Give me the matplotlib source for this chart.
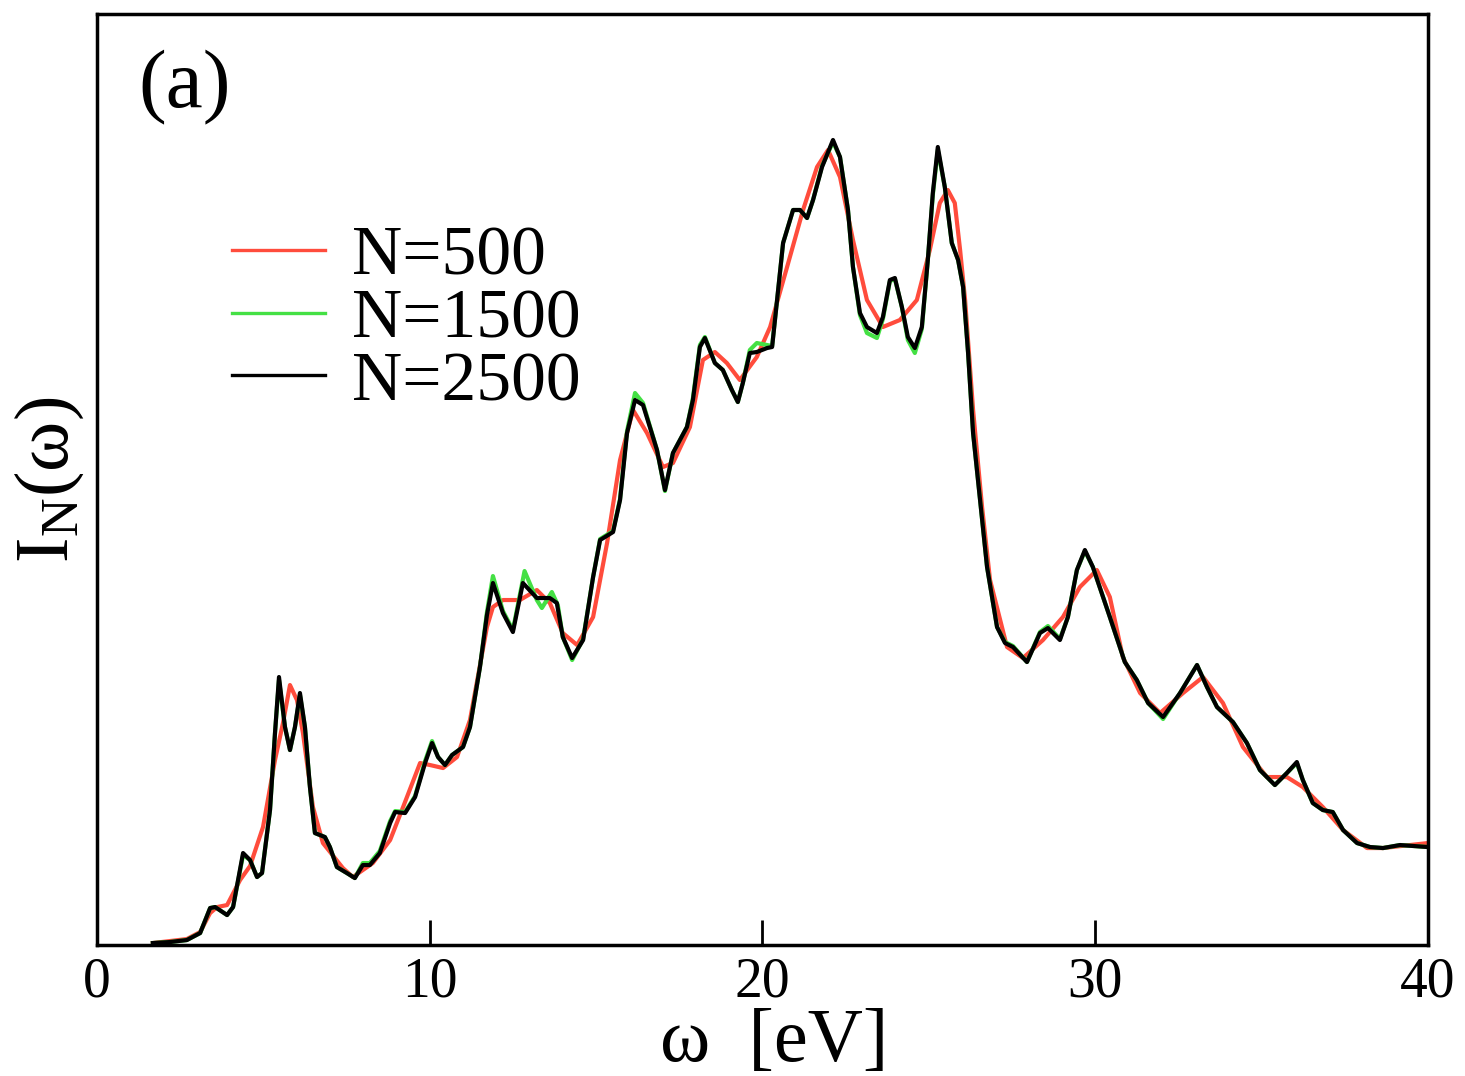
import matplotlib.pyplot as plt

plt.rcParams['font.family'] = ['Liberation Serif', 'DejaVu Serif']
plt.rcParams['mathtext.default'] = 'regular'

labels = ['N=500', 'N=1500', 'N=2500']
colors = ['#ff4c3c', '#44e044', 'black']

# N=500 (red), omega in eV, intensity in arbitrary units
w_500 = [1.68, 2.70, 3.10, 3.40, 3.61, 3.91, 4.30, 4.60, 4.99, 5.35, 5.59, 5.80, 6.01,
         6.19, 6.49, 6.79, 7.39, 7.69, 8.29, 8.81, 9.20, 9.71, 10.01, 10.40, 10.82,
         11.21, 11.72, 11.90, 12.20, 12.71, 13.22, 13.61, 14.00, 14.43, 14.91, 15.33,
         15.72, 16.11, 16.53, 17.01, 17.31, 17.82, 18.21, 18.57, 18.93, 19.32, 19.83,
         20.23, 20.74, 21.22, 21.64, 21.97, 22.33, 22.72, 23.14, 23.62, 24.13, 24.64,
         25.03, 25.33, 25.57, 25.78, 25.94, 26.09, 26.33, 26.60, 26.84, 27.35, 27.83,
         28.43, 29.03, 29.54, 30.05, 30.44, 30.83, 31.35, 31.95, 32.64, 33.24, 33.84,
         34.44, 35.16, 35.76, 36.24, 36.84, 37.45, 38.17, 38.65, 40.0]
i_500 = [0.2, 0.6, 1.3, 3.2, 3.8, 4.0, 6.5, 7.9, 11.8, 18.5, 22.2, 26.0, 24.5,
         21.2, 13.8, 10.2, 7.7, 6.8, 8.2, 10.5, 13.8, 18.2, 18.0, 17.7, 18.8,
         22.5, 31.8, 33.8, 34.5, 34.5, 35.5, 34.2, 31.2, 30.0, 32.8, 40.2,
         48.5, 53.5, 51.2, 47.8, 48.2, 51.8, 58.5, 59.3, 58.2, 56.5, 58.8,
         61.8, 67.8, 73.5, 77.8, 79.5, 76.8, 70.5, 64.5, 61.8, 62.5, 64.5,
         69.5, 74.2, 75.5, 74.2, 69.5, 64.5, 53.5, 43.8, 36.5, 29.8, 28.7,
         30.5, 32.8, 35.8, 37.5, 34.8, 28.8, 25.2, 23.2, 25.2, 26.8, 24.2,
         19.8, 16.8, 16.8, 15.8, 13.8, 11.5, 9.7, 9.7, 10.2]

# N=1500 (green)
w_1500 = [1.68, 2.19, 2.70, 3.10, 3.40, 3.55, 3.91, 4.09, 4.39, 4.60, 4.81, 4.96, 5.20,
          5.35, 5.47, 5.65, 5.80, 5.95, 6.10, 6.25, 6.40, 6.55, 6.85, 7.00, 7.21, 7.51,
          7.75, 7.99, 8.20, 8.50, 8.81, 8.96, 9.26, 9.56, 9.86, 10.07, 10.25, 10.46,
          10.67, 11.00, 11.21, 11.51, 11.72, 11.90, 12.20, 12.50, 12.85, 13.22, 13.37,
          13.67, 13.85, 14.00, 14.28, 14.61, 14.91, 15.12, 15.51, 15.72, 15.93, 16.17,
          16.41, 16.83, 17.07, 17.31, 17.73, 17.91, 18.12, 18.27, 18.57, 18.81, 19.08,
          19.26, 19.41, 19.62, 19.83, 20.14, 20.29, 20.44, 20.62, 20.92, 21.13, 21.34,
          21.52, 21.79, 22.12, 22.33, 22.57, 22.72, 22.93, 23.14, 23.44, 23.62, 23.83,
          23.98, 24.19, 24.37, 24.58, 24.79, 24.97, 25.12, 25.27, 25.48, 25.69, 25.88,
          26.03, 26.18, 26.33, 26.54, 26.75, 27.05, 27.29, 27.53, 27.95, 28.34, 28.58,
          28.94, 29.18, 29.45, 29.69, 29.93, 30.44, 30.89, 31.25, 31.59, 32.04, 32.55,
          33.06, 33.36, 33.66, 34.14, 34.56, 34.95, 35.40, 35.76, 36.06, 36.24, 36.54,
          36.84, 37.14, 37.45, 37.87, 38.26, 38.65, 39.16, 40.0]
i_1500 = [0.2, 0.3, 0.5, 1.2, 3.7, 3.8, 3.0, 3.8, 9.0, 8.5, 6.8, 7.2, 13.5,
          21.2, 26.5, 21.8, 19.5, 21.8, 25.0, 21.8, 15.8, 11.2, 10.8, 9.8, 7.8, 7.2,
          6.7, 8.2, 8.2, 9.4, 12.4, 13.4, 13.3, 14.9, 18.4, 20.4, 18.8, 18.0,
          19.0, 19.8, 21.8, 27.8, 33.3, 36.9, 33.4, 31.5, 37.4, 34.5, 33.7,
          35.3, 34.0, 30.8, 28.5, 30.6, 36.8, 40.6, 41.4, 44.6, 51.4, 55.2,
          54.2, 49.5, 45.4, 49.2, 51.8, 54.7, 60.0, 60.8, 58.2, 57.5, 55.5,
          54.3, 56.2, 59.5, 60.2, 60.0, 59.9, 64.5, 70.2, 73.5, 73.5, 72.7,
          74.5, 77.9, 80.3, 78.8, 73.5, 67.8, 63.0, 61.2, 60.7, 62.6, 66.4,
          66.6, 63.8, 60.5, 59.2, 61.6, 68.5, 75.0, 79.5, 75.8, 70.2, 68.5,
          65.8, 59.2, 51.2, 44.5, 37.8, 31.8, 30.3, 29.9, 28.3, 31.3, 31.9,
          30.6, 32.8, 37.5, 39.4, 37.8, 32.8, 28.3, 26.5, 24.2, 22.6, 25.2,
          28.0, 25.8, 23.8, 22.3, 20.2, 17.5, 16.0, 17.2, 18.2, 16.5, 14.2,
          13.5, 13.3, 11.5, 10.2, 9.8, 9.7, 10.0, 9.8]

# N=2500 (black)
w_2500 = [1.68, 2.19, 2.70, 3.10, 3.40, 3.55, 3.91, 4.09, 4.39, 4.60, 4.81, 4.96, 5.20,
          5.35, 5.47, 5.65, 5.80, 5.95, 6.10, 6.25, 6.40, 6.55, 6.85, 7.00, 7.21, 7.51,
          7.75, 7.99, 8.20, 8.50, 8.81, 8.96, 9.26, 9.56, 9.86, 10.07, 10.25, 10.46,
          10.67, 11.00, 11.21, 11.51, 11.72, 11.90, 12.20, 12.50, 12.80, 13.22, 13.61,
          13.82, 14.00, 14.28, 14.61, 14.91, 15.12, 15.51, 15.72, 15.93, 16.17, 16.41,
          16.83, 17.07, 17.31, 17.73, 17.91, 18.12, 18.27, 18.57, 18.81, 19.08, 19.26,
          19.41, 19.62, 19.83, 20.14, 20.29, 20.44, 20.62, 20.92, 21.13, 21.34, 21.52,
          21.79, 22.12, 22.33, 22.57, 22.72, 22.93, 23.14, 23.44, 23.62, 23.83, 23.98,
          24.19, 24.37, 24.58, 24.79, 24.97, 25.12, 25.27, 25.48, 25.69, 25.88, 26.03,
          26.18, 26.33, 26.54, 26.75, 27.05, 27.29, 27.53, 27.95, 28.34, 28.58, 28.94,
          29.18, 29.45, 29.69, 29.93, 30.44, 30.89, 31.25, 31.59, 32.04, 32.55, 33.06,
          33.36, 33.66, 34.14, 34.56, 34.95, 35.40, 35.76, 36.06, 36.24, 36.54, 36.84,
          37.14, 37.45, 37.87, 38.26, 38.65, 39.16, 40.0]
i_2500 = [0.2, 0.3, 0.5, 1.2, 3.7, 3.8, 3.0, 3.8, 9.2, 8.5, 6.8, 7.2, 13.5,
          21.2, 26.8, 21.8, 19.5, 21.8, 25.2, 21.8, 15.8, 11.2, 10.8, 9.8, 7.8, 7.2,
          6.7, 8.0, 8.0, 9.2, 12.2, 13.3, 13.2, 14.8, 18.2, 20.2, 18.8, 18.0,
          19.0, 19.8, 21.8, 27.8, 33.0, 36.2, 33.2, 31.3, 36.2, 34.7, 34.7,
          34.2, 30.8, 28.7, 30.5, 36.8, 40.5, 41.3, 44.5, 51.2, 54.5, 54.0,
          49.5, 45.5, 49.2, 51.8, 54.5, 59.8, 60.7, 58.2, 57.5, 55.5, 54.3,
          56.2, 59.2, 59.3, 59.7, 59.8, 64.5, 70.2, 73.5, 73.5, 72.7, 74.5,
          77.8, 80.5, 78.8, 73.5, 67.8, 63.2, 61.8, 61.2, 62.8, 66.5, 66.7,
          63.8, 60.8, 59.7, 61.8, 68.5, 75.2, 79.8, 75.8, 70.2, 68.5, 65.8,
          59.2, 51.2, 44.5, 37.8, 31.8, 30.2, 29.8, 28.3, 31.2, 31.7, 30.5,
          32.8, 37.5, 39.5, 37.8, 32.8, 28.3, 26.5, 24.2, 22.8, 25.2, 28.0,
          25.8, 23.8, 22.3, 20.2, 17.5, 16.0, 17.2, 18.3, 16.5, 14.2, 13.5,
          13.3, 11.5, 10.2, 9.8, 9.7, 10.0, 9.8]

fig = plt.figure(figsize=(14.65, 10.76), dpi=100)
ax = fig.add_axes([0.0662, 0.1217, 0.9085, 0.8653])

series = [(w_500, i_500), (w_1500, i_1500), (w_2500, i_2500)]
for (w, inten), lab, col in zip(series, labels, colors):
    ax.plot(w, inten, color=col, linewidth=3.0, solid_joinstyle='round', label=lab)

ax.set_xlim(0, 40)
ax.set_ylim(0, 93.1)
ax.set_xticks([0, 10, 20, 30, 40])
ax.set_yticks([])
ax.tick_params(axis='x', direction='in', length=18, width=2, labelsize=40, pad=8)
for sp in ax.spines.values():
    sp.set_linewidth(2.5)

ax.set_xlabel('ω  [eV]', fontsize=55, labelpad=0)
ax.xaxis.label.set_x(0.509)
ax.set_ylabel('I$_N$(ω)', fontsize=55, labelpad=8)

ax.text(0.031, 0.900, '(a)', transform=ax.transAxes, fontsize=60)

# hand-placed legend
leg_y = [0.7465, 0.6788, 0.6122]
for yy, lab, col in zip(leg_y, labels, colors):
    ax.plot([0.1014, 0.1713], [yy, yy], color=col, linewidth=2.4, transform=ax.transAxes)
    ax.text(0.1916, yy - 0.0268, lab, transform=ax.transAxes, fontsize=50, va='baseline')

fig.savefig('out.png', dpi=100)
